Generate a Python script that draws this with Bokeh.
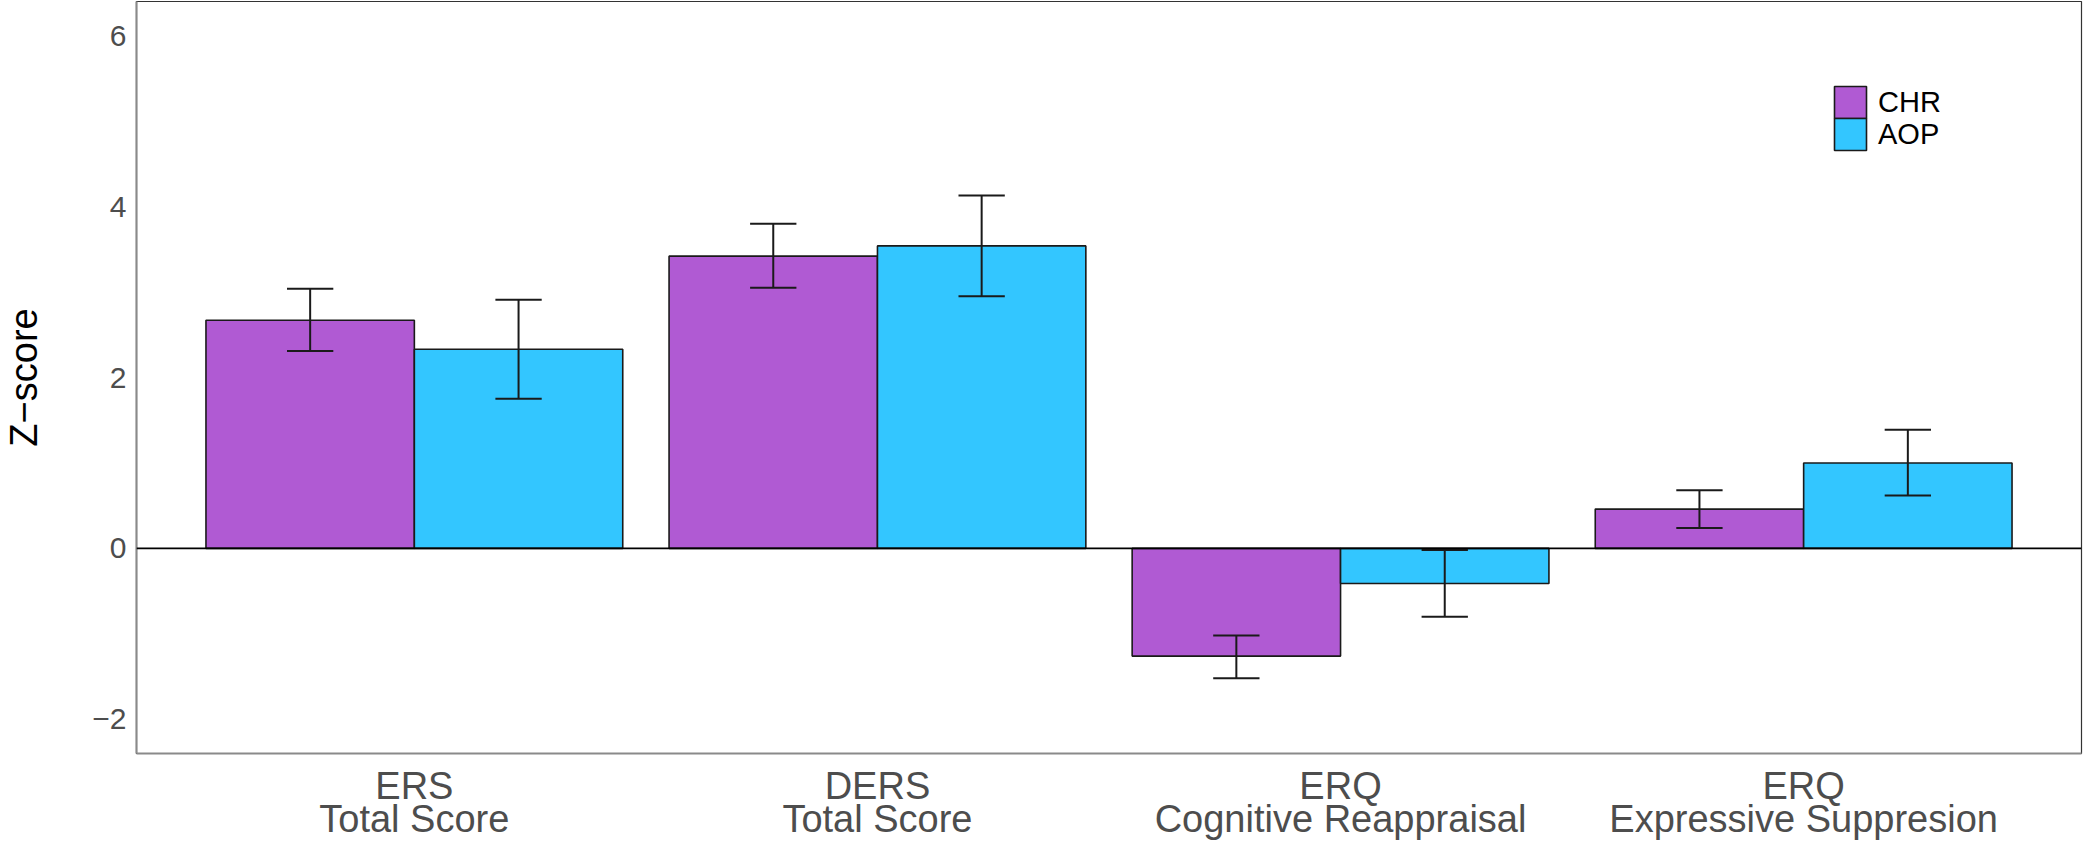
from bokeh.plotting import figure
from bokeh.models import (ColumnDataSource, FactorRange, Range1d, Span, FixedTicker,
                          Legend, LegendItem)
from bokeh.transform import dodge
from bokeh.embed import file_html
from bokeh.resources import INLINE

# ---- data ----
categories = ["ERS\nTotal Score", "DERS\nTotal Score",
              "ERQ\nCognitive Reappraisal", "ERQ\nExpressive Suppresion"]
groups = ["CHR", "AOP"]
chr_mean = [2.67, 3.42, -1.26, 0.46]
chr_lower = [2.31, 3.05, -1.52, 0.24]
chr_upper = [3.04, 3.80, -1.02, 0.68]
aop_mean = [2.33, 3.54, -0.41, 1.00]
aop_lower = [1.75, 2.95, -0.80, 0.62]
aop_upper = [2.91, 4.13, -0.02, 1.39]
y_ticks = [-2, 0, 2, 4, 6]
y_tick_labels = ["\u22122", "0", "2", "4", "6"]

colors = {"CHR": "#B05AD3", "AOP": "#33C6FF"}
FONT = "Liberation Sans"

p = figure(x_range=FactorRange(factors=categories, range_padding=0.1,
                               range_padding_units="absolute"),
           y_range=Range1d(-2.4, 6.4),
           frame_width=1945, frame_height=752,
           min_border_left=136, min_border_right=3, min_border_top=1,
           min_border_bottom=89,
           output_backend="svg", toolbar_location=None)

p.xgrid.visible = False
p.ygrid.visible = False
p.outline_line_color = "#333333"
p.outline_line_width = 1.2
p.background_fill_color = "white"
p.border_fill_color = "white"

sources = {
    "CHR": ColumnDataSource(dict(cat=categories, mean=chr_mean, lower=chr_lower, upper=chr_upper)),
    "AOP": ColumnDataSource(dict(cat=categories, mean=aop_mean, lower=aop_lower, upper=aop_upper)),
}
offsets = {"CHR": -0.225, "AOP": 0.225}
bar_w = 0.45
cap = 0.05

renderers = {}
for g in groups:
    renderers[g] = p.vbar(x=dodge("cat", offsets[g], range=p.x_range), top="mean", bottom=0,
                          width=bar_w, source=sources[g], fill_color=colors[g],
                          line_color="#1a1a1a", line_width=1.6)

p.add_layout(Span(location=0, dimension="width", line_color="black", line_width=1.6))

for g in groups:
    o = offsets[g]
    s = sources[g]
    p.segment(x0=dodge("cat", o, range=p.x_range), x1=dodge("cat", o, range=p.x_range),
              y0="lower", y1="upper", source=s, line_color="#1a1a1a", line_width=2)
    p.segment(x0=dodge("cat", o - cap, range=p.x_range), x1=dodge("cat", o + cap, range=p.x_range),
              y0="upper", y1="upper", source=s, line_color="#1a1a1a", line_width=2)
    p.segment(x0=dodge("cat", o - cap, range=p.x_range), x1=dodge("cat", o + cap, range=p.x_range),
              y0="lower", y1="lower", source=s, line_color="#1a1a1a", line_width=2)

# axes
for ax in (p.xaxis[0], p.yaxis[0]):
    ax.axis_line_color = "#8a8a8a"
    ax.axis_line_width = 2
    ax.major_tick_line_color = None
    ax.minor_tick_line_color = None
    ax.major_tick_out = 0
    ax.major_tick_in = 0
    ax.major_label_text_font = FONT
    ax.major_label_text_color = "#4d4d4d"

p.xaxis.major_label_text_font_size = "38px"
p.xaxis.major_label_text_line_height = 0.8
p.xaxis.major_label_standoff = 11

p.yaxis.ticker = FixedTicker(ticks=y_ticks)
p.yaxis.major_label_overrides = {t: l for t, l in zip(y_ticks, y_tick_labels)}
p.yaxis.major_label_text_font_size = "30px"
p.yaxis.major_label_standoff = 10
p.yaxis.axis_label = "Z\u2212score"
p.yaxis.axis_label_text_font = FONT
p.yaxis.axis_label_text_font_size = "38px"
p.yaxis.axis_label_text_font_style = "normal"
p.yaxis.axis_label_text_color = "black"
p.yaxis.axis_label_standoff = 44

# one legend per group so the two keys sit edge to edge
legend_y = {"CHR": 631, "AOP": 599}
for g in groups:
    lg = Legend(items=[LegendItem(label=g, renderers=[renderers[g]])],
                location=(1694, legend_y[g]), orientation="vertical",
                glyph_width=40, glyph_height=40, label_height=40, label_width=40,
                label_standoff=8, spacing=0, padding=0, margin=0,
                border_line_color=None, background_fill_alpha=0,
                label_text_font=FONT, label_text_font_size="29px",
                label_text_color="black")
    p.add_layout(lg)

open("out.html", "w").write(file_html(p, INLINE))
